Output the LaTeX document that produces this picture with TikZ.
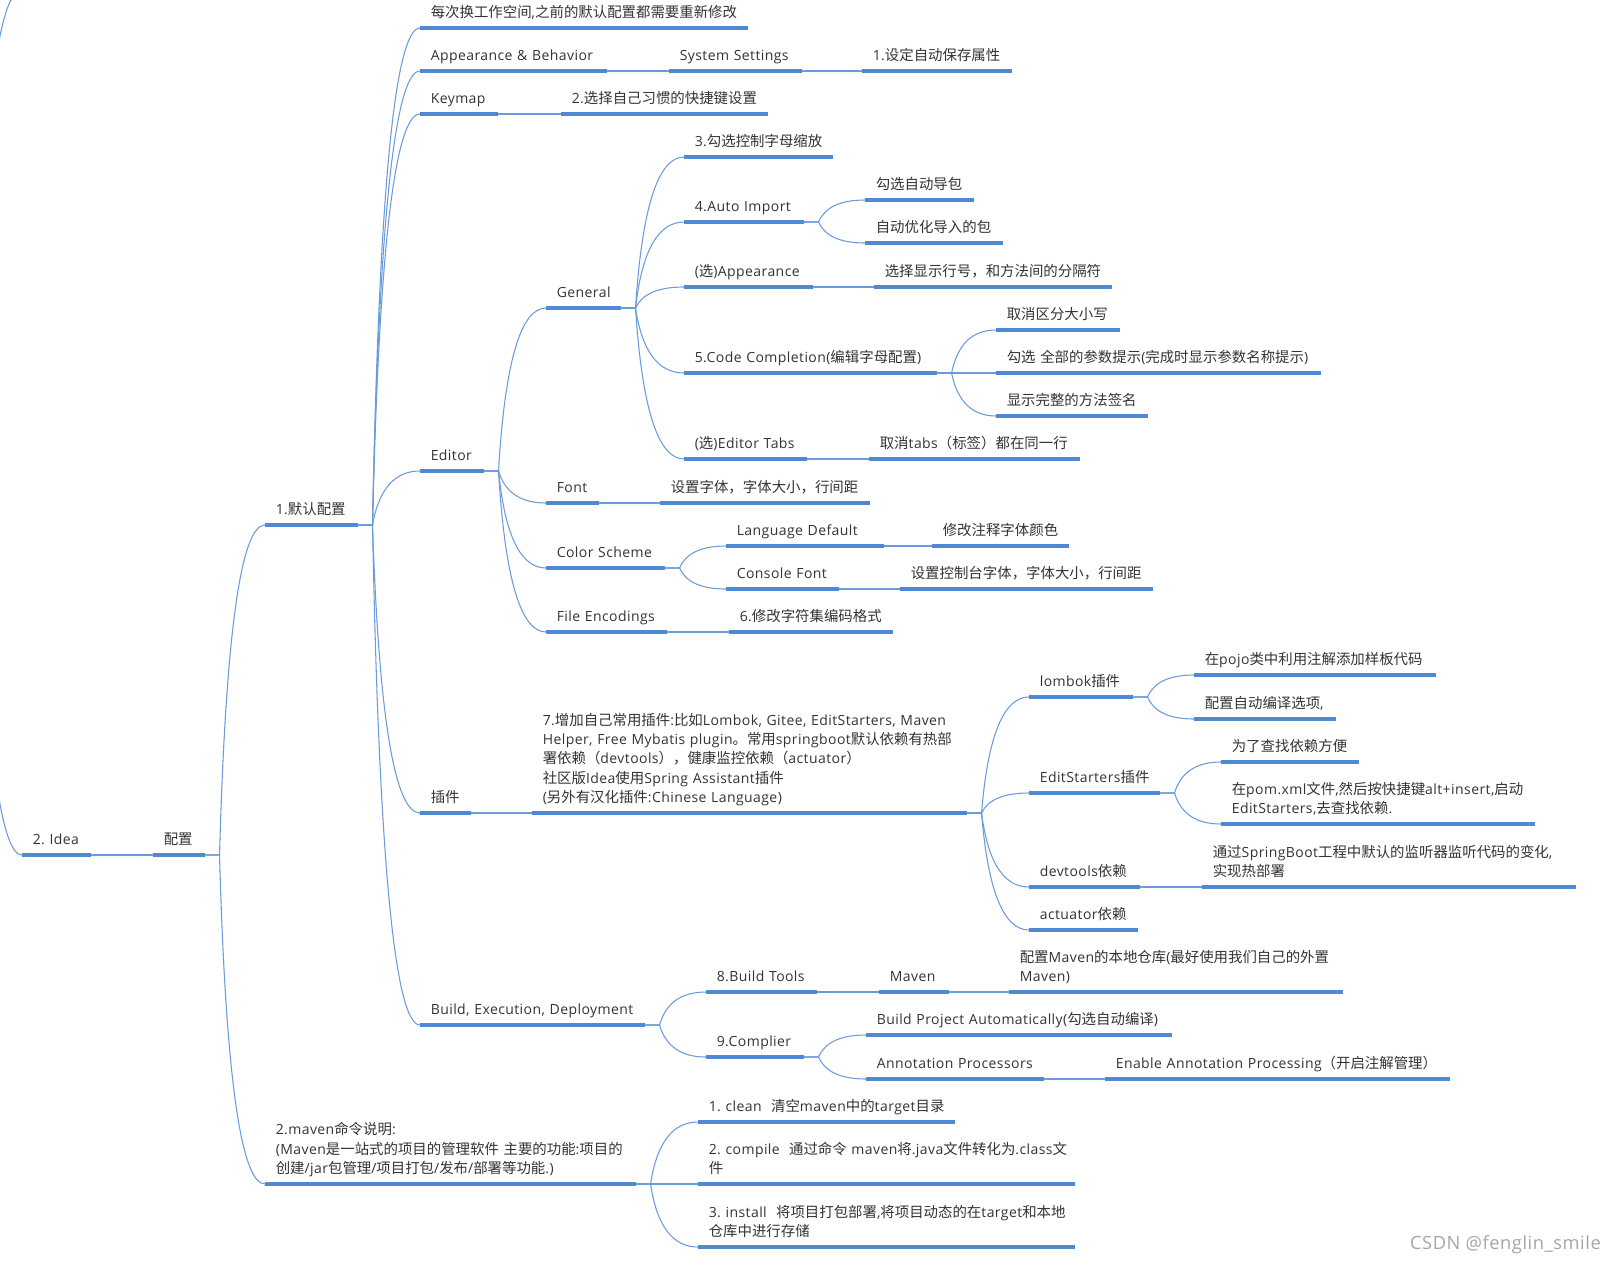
\documentclass[tikz,border=0pt]{standalone}
\usepackage{fontspec}
\setmainfont[LetterSpace=3]{Open Sans}
\newfontfamily\cjk[Scale=1.03]{Noto Sans CJK SC}
\usetikzlibrary{calc}
\usepackage{xcolor}

\definecolor{barblue}{HTML}{5089D3}
\definecolor{linkblue}{HTML}{6A9BDD}
\definecolor{textdark}{HTML}{333333}

% chinese characters go to the cjk family
\XeTeXinterchartokenstate=1
\newXeTeXintercharclass\cjkclass
\count255="3000
\loop\ifnum\count255<"3040 \XeTeXcharclass\count255=\cjkclass \advance\count255 by 1 \repeat
\count255="4E00
\loop\ifnum\count255<"A000 \XeTeXcharclass\count255=\cjkclass \advance\count255 by 1 \repeat
\count255="FF00
\loop\ifnum\count255<"FFF0 \XeTeXcharclass\count255=\cjkclass \advance\count255 by 1 \repeat
\XeTeXinterchartoks 0 \cjkclass={\begingroup\cjk}
\XeTeXinterchartoks 4095 \cjkclass={\begingroup\cjk}
\XeTeXinterchartoks \cjkclass 0={\endgroup}
\XeTeXinterchartoks \cjkclass 4095={\endgroup}

\begin{document}
\begin{tikzpicture}[x=0.75pt, y=-0.75pt,
    bar/.style={draw=barblue, line width=2.6pt},
    link/.style={draw=linkblue, line width=0.8pt},
    topic/.code={
        \pgfmathsetlengthmacro{\topicwd}{#1*0.75pt-15.8pt}
        \tikzset{
            anchor=south west,
            inner xsep=7.9pt,
            inner ysep=7.7pt,
            text depth=0pt,
            text=textdark,
            align=left,
            text width=\topicwd,
            font=\fontsize{10.5pt}{14.45pt}\selectfont,
            append after command={(\tikzlastnode.south west) edge[bar] (\tikzlastnode.south east)}
        }
    },
    morerows/.style={text depth=#1*14.45pt},
    branch/.style={to path={
        let \p1=($(\tikztostart)+(15,0)$), \p2=(\tikztotarget) in
        -- (\p1)
        .. controls ({\x1+0.133*(\x2-\x1)},{\y1+0.667*(\y2-\y1)}) and ({\x2-0.533*(\x2-\x1)},\y2) .. (\p2)
    }}
]

    \useasboundingbox (0,0) rectangle (1615,1264);

    \coordinate (off_parent) at (-40,400);
    \coordinate (off_sibling) at (22,-10);

    \node (idea) [topic=68] at (22,855) {2.~Idea};
    \node (config) [topic=51] at (153,855) {配置};

    \node (default_config) [topic=92] at (265,525) {1.默认配置};
    \node (maven_commands) [topic=370, morerows=2] at (265,1184)
    {
        2.maven命令说明:\\
        (Maven是一站式的项目的管理软件 主要的功能:项目的\\
        创建/jar包管理/项目打包/发布/部署等功能.)
    };

    \node (workspace_note) [topic=327] at (420,28) {每次换工作空间,之前的默认配置都需要重新修改};
    \node (appearance_behavior) [topic=186] at (420,71) {Appearance \& Behavior};
    \node (system_settings) [topic=132] at (669,71) {System Settings};
    \node (auto_save) [topic=149] at (862,71) {1.设定自动保存属性};
    \node (keymap) [topic=77] at (420,114) {Keymap};
    \node (keymap_choice) [topic=206] at (561,114) {2.选择自己习惯的快捷键设置};

    \node (editor) [topic=63] at (420,471) {Editor};
    \node (general) [topic=74] at (546,308) {General};
    \node (letter_case) [topic=148] at (684,157) {3.勾选控制字母缩放};
    \node (auto_import) [topic=119] at (684,222) {4.Auto Import};
    \node (import_packages) [topic=108] at (865,200) {勾选自动导包};
    \node (optimize_imports) [topic=137] at (865,243) {自动优化导入的包};
    \node (appearance_opt) [topic=128] at (684,287) {(选)Appearance};
    \node (line_numbers) [topic=237] at (874,287) {选择显示行号，和方法间的分隔符};
    \node (code_completion) [topic=252] at (684,373) {5.Code Completion(编辑字母配置)};
    \node (ignore_case) [topic=123] at (996,330) {取消区分大小写};
    \node (param_hints) [topic=324] at (996,373) {勾选 全部的参数提示(完成时显示参数名称提示)};
    \node (method_sign) [topic=151] at (996,416) {显示完整的方法签名};
    \node (editor_tabs) [topic=122] at (684,459) {(选)Editor Tabs};
    \node (tabs_row) [topic=210] at (869,459) {取消tabs（标签）都在同一行};
    \node (font) [topic=52] at (546,503) {Font};
    \node (font_size) [topic=209] at (660,503) {设置字体，字体大小，行间距};
    \node (color_scheme) [topic=118] at (546,568) {Color Scheme};
    \node (language_default) [topic=157] at (726,546) {Language Default};
    \node (comment_color) [topic=136] at (932,546) {修改注释字体颜色};
    \node (console_font) [topic=112] at (726,589) {Console Font};
    \node (console_size) [topic=252] at (900,589) {设置控制台字体，字体大小，行间距};
    \node (file_encodings) [topic=120] at (546,632) {File Encodings};
    \node (charset) [topic=163] at (729,632) {6.修改字符集编码格式};

    \node (plugins) [topic=50] at (420,813) {插件};
    \node (common_plugins) [topic=434, morerows=4] at (532,813)
    {
        7.增加自己常用插件:比如Lombok, Gitee, EditStarters, Maven\\
        Helper, Free Mybatis plugin。常用springboot默认依赖有热部\\
        署依赖（devtools），健康监控依赖（actuator）\\
        社区版Idea使用Spring Assistant插件\\
        (另外有汉化插件:Chinese Language)
    };
    \node (lombok) [topic=103] at (1029,697) {lombok插件};
    \node (pojo_note) [topic=241] at (1194,675) {在pojo类中利用注解添加样板代码};
    \node (auto_compile) [topic=141] at (1194,719) {配置自动编译选项,};
    \node (editstarters) [topic=130] at (1029,793) {EditStarters插件};
    \node (find_deps) [topic=137] at (1221,762) {为了查找依赖方便};
    \node (pom_note) [topic=313, morerows=1] at (1221,824)
    {
        在pom.xml文件,然后按快捷键alt+insert,启动\\
        EditStarters,去查找依赖.
    };
    \node (devtools) [topic=110] at (1029,887) {devtools依赖};
    \node (hot_deploy) [topic=373, morerows=1] at (1202,887)
    {
        通过SpringBoot工程中默认的监听器监听代码的变化,\\
        实现热部署
    };
    \node (actuator) [topic=108] at (1029,930) {actuator依赖};

    \node (build) [topic=224] at (420,1025) {Build, Execution, Deployment};
    \node (build_tools) [topic=110] at (706,992) {8.Build Tools};
    \node (maven) [topic=69] at (879,992) {Maven};
    \node (local_repo) [topic=333, morerows=1] at (1009,992)
    {
        配置Maven的本地仓库(最好使用我们自己的外置\\
        Maven)
    };
    \node (complier) [topic=97] at (706,1057) {9.Complier};
    \node (build_auto) [topic=305] at (866,1035) {Build Project Automatically(勾选自动编译)};
    \node (annotation) [topic=177] at (866,1079) {Annotation Processors};
    \node (enable_annotation) [topic=344] at (1105,1079) {Enable Annotation Processing（开启注解管理）};

    \node (mvn_clean) [topic=256] at (698,1122) {1.~clean~~清空maven中的target目录};
    \node (mvn_compile) [topic=376, morerows=1] at (698,1184)
    {
        2.~compile~~通过命令~maven将.java文件转化为.class文\\
        件
    };
    \node (mvn_install) [topic=376, morerows=1] at (698,1247)
    {
        3.~install~~将项目打包部署,将项目动态的在target和本地\\
        仓库中进行存储
    };

    \node (csdn_mark) [anchor=east, inner sep=0pt, text=black!35, font=\fontsize{13.7pt}{16pt}\selectfont] at (1601,1245) {CSDN @fenglin\_smile};


    \draw[link] (off_parent) to[branch] (off_sibling);
    \draw[link] (off_parent) to[branch] (idea.south west);
    \draw[link] (idea.south east) -- (config.south west);
    \draw[link] (config.south east) to[branch] (default_config.south west);
    \draw[link] (config.south east) to[branch] (maven_commands.south west);

    \draw[link] (default_config.south east) to[branch] (workspace_note.south west);
    \draw[link] (default_config.south east) to[branch] (appearance_behavior.south west);
    \draw[link] (default_config.south east) to[branch] (keymap.south west);
    \draw[link] (default_config.south east) to[branch] (editor.south west);
    \draw[link] (default_config.south east) to[branch] (plugins.south west);
    \draw[link] (default_config.south east) to[branch] (build.south west);

    \draw[link] (appearance_behavior.south east) -- (system_settings.south west);
    \draw[link] (system_settings.south east) -- (auto_save.south west);
    \draw[link] (keymap.south east) -- (keymap_choice.south west);

    \draw[link] (editor.south east) to[branch] (general.south west);
    \draw[link] (editor.south east) to[branch] (font.south west);
    \draw[link] (editor.south east) to[branch] (color_scheme.south west);
    \draw[link] (editor.south east) to[branch] (file_encodings.south west);

    \draw[link] (general.south east) to[branch] (letter_case.south west);
    \draw[link] (general.south east) to[branch] (auto_import.south west);
    \draw[link] (general.south east) to[branch] (appearance_opt.south west);
    \draw[link] (general.south east) to[branch] (code_completion.south west);
    \draw[link] (general.south east) to[branch] (editor_tabs.south west);

    \draw[link] (auto_import.south east) to[branch] (import_packages.south west);
    \draw[link] (auto_import.south east) to[branch] (optimize_imports.south west);
    \draw[link] (appearance_opt.south east) -- (line_numbers.south west);
    \draw[link] (code_completion.south east) to[branch] (ignore_case.south west);
    \draw[link] (code_completion.south east) -- (param_hints.south west);
    \draw[link] (code_completion.south east) to[branch] (method_sign.south west);
    \draw[link] (editor_tabs.south east) -- (tabs_row.south west);

    \draw[link] (font.south east) -- (font_size.south west);
    \draw[link] (color_scheme.south east) to[branch] (language_default.south west);
    \draw[link] (color_scheme.south east) to[branch] (console_font.south west);
    \draw[link] (language_default.south east) -- (comment_color.south west);
    \draw[link] (console_font.south east) -- (console_size.south west);
    \draw[link] (file_encodings.south east) -- (charset.south west);

    \draw[link] (plugins.south east) -- (common_plugins.south west);
    \draw[link] (common_plugins.south east) to[branch] (lombok.south west);
    \draw[link] (common_plugins.south east) to[branch] (editstarters.south west);
    \draw[link] (common_plugins.south east) to[branch] (devtools.south west);
    \draw[link] (common_plugins.south east) to[branch] (actuator.south west);
    \draw[link] (lombok.south east) to[branch] (pojo_note.south west);
    \draw[link] (lombok.south east) to[branch] (auto_compile.south west);
    \draw[link] (editstarters.south east) to[branch] (find_deps.south west);
    \draw[link] (editstarters.south east) to[branch] (pom_note.south west);
    \draw[link] (devtools.south east) -- (hot_deploy.south west);

    \draw[link] (build.south east) to[branch] (build_tools.south west);
    \draw[link] (build.south east) to[branch] (complier.south west);
    \draw[link] (build_tools.south east) -- (maven.south west);
    \draw[link] (maven.south east) -- (local_repo.south west);
    \draw[link] (complier.south east) to[branch] (build_auto.south west);
    \draw[link] (complier.south east) to[branch] (annotation.south west);
    \draw[link] (annotation.south east) -- (enable_annotation.south west);

    \draw[link] (maven_commands.south east) to[branch] (mvn_clean.south west);
    \draw[link] (maven_commands.south east) -- (mvn_compile.south west);
    \draw[link] (maven_commands.south east) to[branch] (mvn_install.south west);

\end{tikzpicture}
\end{document}
